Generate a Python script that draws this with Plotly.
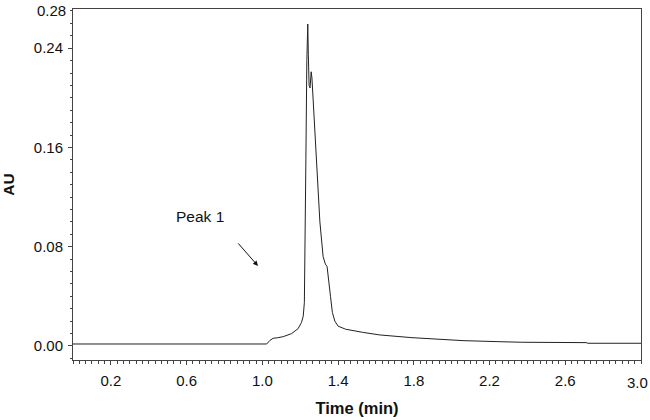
import plotly.graph_objects as go

time_min = [0.0, 1.00, 1.023, 1.04, 1.057, 1.08, 1.110, 1.155, 1.189, 1.207, 1.216,
            1.222, 1.226, 1.230, 1.235, 1.240, 1.243, 1.247, 1.252, 1.258, 1.262,
            1.268, 1.286, 1.304, 1.321, 1.333, 1.342, 1.350, 1.360, 1.370, 1.383,
            1.40, 1.44, 1.53, 1.62, 1.79, 2.06, 2.24, 2.37, 2.71, 2.72, 3.0]
au = [0.0016, 0.0016, 0.0016, 0.0045, 0.0062, 0.0066, 0.0075, 0.0100, 0.0140, 0.0190, 0.0240,
      0.035, 0.080, 0.150, 0.230, 0.2595, 0.235, 0.210, 0.208, 0.221, 0.216,
      0.198, 0.145, 0.100, 0.072, 0.066, 0.064, 0.055, 0.040, 0.027, 0.020,
      0.016, 0.0135, 0.0110, 0.0089, 0.0067, 0.0043, 0.0035, 0.0030, 0.0027, 0.0022, 0.0022]

x_tickvals = [0.2, 0.6, 1.0, 1.4, 1.8, 2.2, 2.6, 3.0]
x_ticktext = ["0.2", "0.6", "1.0", "1.4", "1.8", "2.2", "2.6", "3.0"]
y_tickvals = [0.00, 0.08, 0.16, 0.24, 0.28]
y_ticktext = ["0.00", "0.08", "0.16", "0.24", "0.28"]

font = "Liberation Sans, Arial, sans-serif"
axcol = "#444444"
tfs = 15

fig = go.Figure()
fig.add_trace(go.Scatter(x=time_min, y=au, mode="lines",
                         line=dict(color="#222222", width=1), hoverinfo="skip"))

fig.add_annotation(x=0.977, y=0.0645, ax=-21, ay=-24, text="", showarrow=True,
                   arrowhead=2, arrowsize=1, arrowwidth=1, arrowcolor="#111111")
fig.add_annotation(x=0.67, y=0.104, text="Peak 1", showarrow=False,
                   font=dict(family=font, size=15.5, color="#111111"))
# end-of-axis labels drawn at the frame edges (as in the original software)
fig.add_annotation(x=0, xref="paper", y=1, yref="paper", text=y_ticktext[-1], showarrow=False,
                   xanchor="right", yanchor="middle", xshift=-5, yshift=-1,
                   font=dict(family=font, size=tfs, color="#111111"))
fig.add_annotation(x=x_tickvals[-1], xref="x", y=0, yref="paper", text=x_ticktext[-1],
                   showarrow=False, xanchor="right", yanchor="top", xshift=9, yshift=-12,
                   font=dict(family=font, size=tfs, color="#111111"))

fig.update_layout(
    width=650, height=420, autosize=False,
    margin=dict(l=73, r=9, t=9, b=60, autoexpand=False),
    paper_bgcolor="white", plot_bgcolor="white",
    showlegend=False,
    font=dict(family=font, size=tfs, color="#111111"),
    xaxis=dict(range=[0, 3.0], tickvals=x_tickvals[:-1], ticktext=x_ticktext[:-1],
               automargin=False, tickfont=dict(size=tfs),
               showgrid=False, zeroline=False, showline=True, linecolor=axcol,
               linewidth=1, mirror=True, ticks="outside", ticklen=4, tickcolor=axcol,
               ticklabelstandoff=3,
               minor=dict(dtick=1/30, tick0=0, ticks="outside", ticklen=3, tickcolor=axcol),
               title=dict(text="<b>Time (min)</b>", font=dict(size=16.5), standoff=14)),
    yaxis=dict(range=[-0.0113, 0.2716], tickvals=y_tickvals[:-1], ticktext=y_ticktext[:-1],
               automargin=False, tickfont=dict(size=tfs),
               showgrid=False, zeroline=False, showline=True, linecolor=axcol,
               linewidth=1, mirror=True, ticks="outside", ticklen=4, tickcolor=axcol,
               ticklabelstandoff=2,
               minor=dict(dtick=0.01, tick0=0, ticks="outside", ticklen=2, tickcolor=axcol),
               title=dict(text="<b>AU</b>", font=dict(size=15.5), standoff=18)),
)

fig.write_html("out.html",
               config={"displayModeBar": False, "responsive": False},
               post_script="document.body.style.margin='0';document.body.style.overflow='hidden';")
